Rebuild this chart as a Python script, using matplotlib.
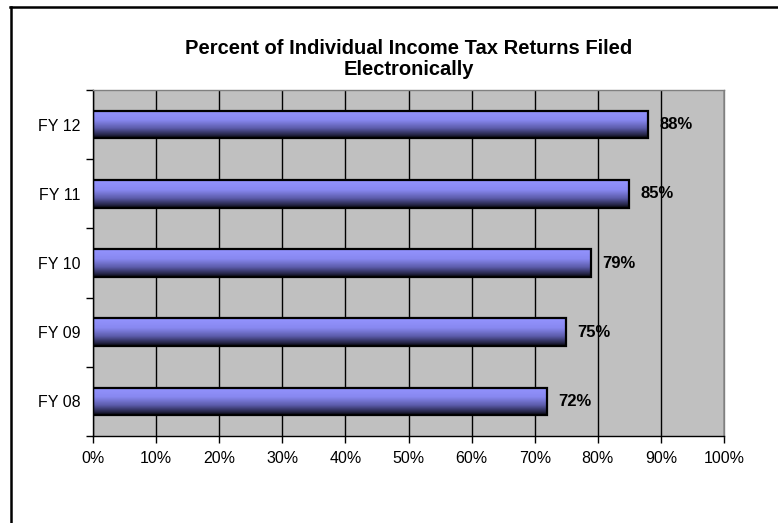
import matplotlib
matplotlib.use("Agg")
import matplotlib.pyplot as plt
from matplotlib.colors import LinearSegmentedColormap
from matplotlib.lines import Line2D
import numpy as np

"""Chart data"""
years = ["FY 08", "FY 09", "FY 10", "FY 11", "FY 12"]
percent = [72, 75, 79, 85, 88]
x_ticks = [0, 10, 20, 30, 40, 50, 60, 70, 80, 90, 100]
title = "Percent of Individual Income Tax Returns Filed\nElectronically"

plt.rcParams["font.family"] = ["Liberation Sans", "DejaVu Sans"]

W, H = 778, 523
fig = plt.figure(figsize=(W / 100, H / 100), dpi=100)
ax = fig.add_axes([93 / W, 1 - 436 / H, (724 - 93) / W, (436 - 90) / H])
ax.set_facecolor("#c0c0c0")

"""Bars, filled afterwards with a vertical gradient"""
pos = np.arange(len(years))
bars = ax.barh(pos, percent, height=0.4, color="none", edgecolor="black",
               linewidth=1.6, zorder=3)

grad = LinearSegmentedColormap.from_list(
    "bar", [(0.0, "#9494ff"), (0.35, "#8888f0"), (0.65, "#5c5caa"),
            (0.88, "#28284c"), (1.0, "#08080f")])
img = np.linspace(0, 1, 64).reshape(-1, 1)
for b in bars:
    x0, y0, w, h = b.get_x(), b.get_y(), b.get_width(), b.get_height()
    ax.imshow(img, cmap=grad, aspect="auto", interpolation="bilinear",
              extent=(x0, x0 + w, y0, y0 + h), origin="upper", zorder=2)

"""Value labels"""
for p, v in zip(pos, percent):
    ax.annotate(f"{v}%", (v, p), xytext=(8, 0), textcoords="offset points",
                va="center", ha="left", fontsize=12, fontweight="bold", zorder=4)

ax.set_xlim(0, 100)
ax.set_ylim(-0.5, len(years) - 0.5)

ax.set_xticks(x_ticks)
ax.set_xticklabels([f"{t}%" for t in x_ticks], fontsize=11.5)
ax.xaxis.grid(True, color="black", linewidth=1.0, zorder=1)
ax.set_axisbelow(True)
ax.tick_params(axis="x", direction="out", length=5, width=1, pad=6, colors="black")

ax.set_yticks(pos)
ax.set_yticklabels(years, fontsize=11.5)
ax.set_yticks(np.arange(-0.5, len(years), 1.0), minor=True)
ax.tick_params(axis="y", which="major", length=0, pad=9)
ax.tick_params(axis="y", which="minor", direction="out", length=5, width=1)

for side in ["top", "right"]:
    ax.spines[side].set_color("#808080")
    ax.spines[side].set_linewidth(1)
for side in ["left", "bottom"]:
    ax.spines[side].set_color("black")
    ax.spines[side].set_linewidth(1)

fig.text(408.5 / W, 1 - 59 / H, title, ha="center", va="center",
         fontsize=14.5, fontweight="bold", linespacing=1.18)

"""Outer chart frame (partly cropped)"""
fig.add_artist(Line2D([10.5 / W, 10.5 / W], [0, 1 - 7 / H], color="black",
                      linewidth=1.8, transform=fig.transFigure))
fig.add_artist(Line2D([10 / W, 1], [1 - 7 / H, 1 - 7 / H], color="black",
                      linewidth=1.8, transform=fig.transFigure))

fig.savefig("out.png", dpi=100)
